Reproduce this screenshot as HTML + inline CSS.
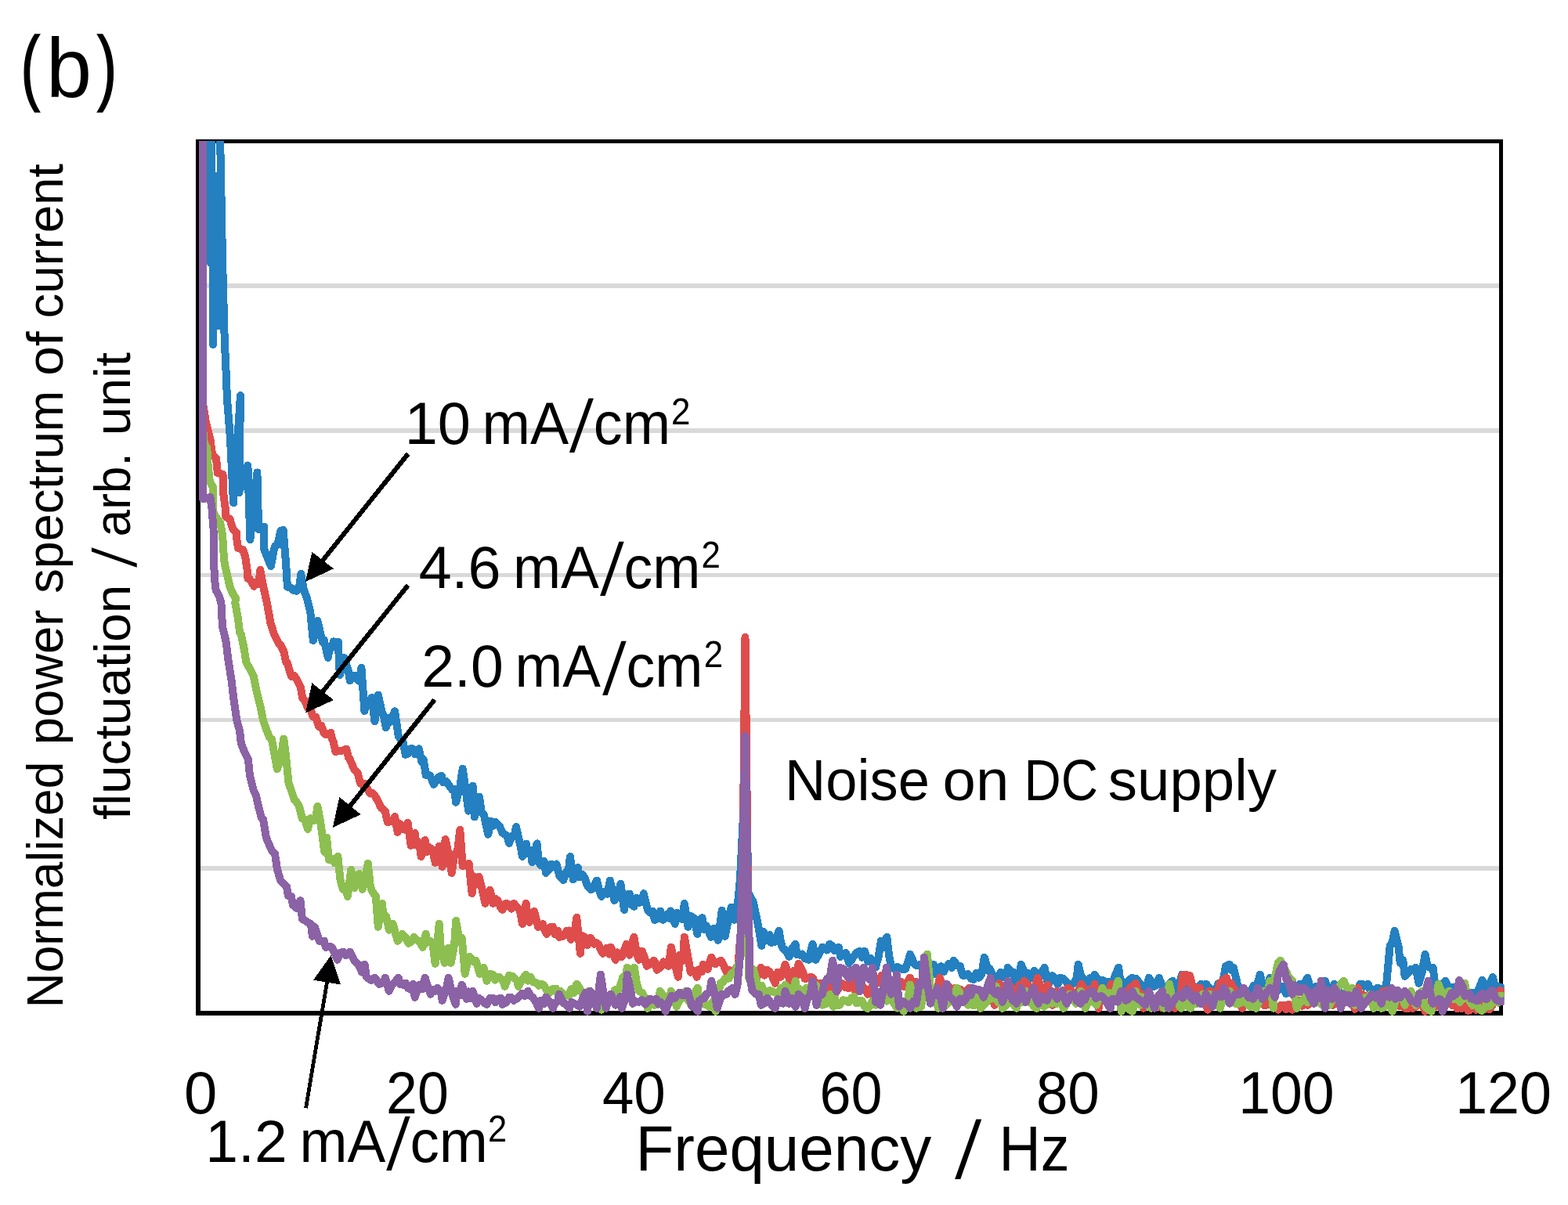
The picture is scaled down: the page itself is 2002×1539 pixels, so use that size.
<!DOCTYPE html>
<html lang="en">
<head>
<meta charset="utf-8">
<title>Normalized power spectrum of current fluctuation</title>
<style>
html,body{margin:0;padding:0;background:#ffffff;}
body{width:2002px;height:1539px;}
svg{display:block;}
text{font-family:"Liberation Sans", sans-serif;fill:#000;}
</style>
</head>
<body>
<svg width="2002" height="1539" viewBox="0 0 2002 1539">
<title>Normalized power spectrum of current fluctuation versus frequency</title>
<desc>Panel (b). Line chart of the normalized power spectrum of current fluctuation / arb. unit against Frequency / Hz from 0 to 120 Hz, for current densities of 10 mA/cm2, 4.6 mA/cm2, 2.0 mA/cm2 and 1.2 mA/cm2. The sharp peak at 50 Hz is labelled Noise on DC supply.</desc>
<defs><clipPath id="plot"><rect x="254" y="180" width="1666.7" height="1122"/></clipPath></defs>
<rect width="2002" height="1539" fill="#ffffff"/>
<g fill="#d9d9d9"><rect x="256" y="362" width="1658" height="6"/><rect x="256" y="547" width="1658" height="6"/><rect x="256" y="732" width="1658" height="5"/><rect x="256" y="917" width="1658" height="5"/><rect x="256" y="1106" width="1658" height="6"/></g>
<g fill="#000"><rect x="250" y="178" width="6" height="1119"/><rect x="250" y="1291" width="1669" height="6"/><rect x="250" y="178" width="1669" height="5"/><rect x="1914" y="178" width="5" height="1119"/></g>
<g>
<text transform="translate(26.38,121.03) scale(0.7390,1.0542)" font-size="100" stroke="#000" stroke-width="1.6">(</text>
<text transform="translate(59.11,123.92) scale(1.0444,1.0803)" font-size="100">b</text>
<text transform="translate(123.93,121.03) scale(0.7543,1.0542)" font-size="100" stroke="#000" stroke-width="1.6">)</text>
<text transform="translate(516.72,567.00) scale(1.0025,1)" font-size="75.60">10</text>
<text transform="translate(615.52,567.00) scale(0.9759,1)" font-size="75.60">mA</text>
<text transform="translate(727.00,576.86) skewX(-6.78) scale(1,1.1494)" font-size="82.03">/</text>
<text transform="translate(757.87,567.00) scale(0.9751,1)" font-size="75.60">cm</text>
<text transform="translate(857.10,542.00) scale(0.9158,1)" font-size="48.00">2</text>
<text transform="translate(534.70,750.50) scale(0.9973,1)" font-size="75.60">4.6</text>
<text transform="translate(654.95,750.50) scale(0.9703,1)" font-size="75.60">mA</text>
<text transform="translate(766.20,760.36) skewX(-6.37) scale(1,1.1494)" font-size="82.03">/</text>
<text transform="translate(796.58,750.50) scale(0.9707,1)" font-size="75.60">cm</text>
<text transform="translate(895.40,725.00) scale(0.9158,1)" font-size="48.00">2</text>
<text transform="translate(538.24,876.90) scale(0.9942,1)" font-size="75.60">2.0</text>
<text transform="translate(657.58,876.90) scale(0.9648,1)" font-size="75.60">mA</text>
<text transform="translate(769.20,886.76) skewX(-6.37) scale(1,1.1494)" font-size="82.03">/</text>
<text transform="translate(799.58,876.90) scale(0.9707,1)" font-size="75.60">cm</text>
<text transform="translate(898.80,852.00) scale(0.9158,1)" font-size="48.00">2</text>
<text transform="translate(262.37,1483.90) scale(0.9923,1)" font-size="75.60">1.2</text>
<text transform="translate(382.56,1483.90) scale(0.9685,1)" font-size="75.60">mA</text>
<text transform="translate(493.20,1493.76) skewX(-6.37) scale(1,1.1494)" font-size="82.03">/</text>
<text transform="translate(523.53,1483.90) scale(0.9859,1)" font-size="75.60">cm</text>
<text transform="translate(623.02,1458.00) scale(0.9066,1)" font-size="48.00">2</text>
<text transform="translate(1002.03,1021.50) scale(0.9659,1)" font-size="74.90">Noise</text>
<text transform="translate(1203.57,1021.50) scale(1.0162,1)" font-size="74.90">on</text>
<text transform="translate(1307.60,1021.50) scale(0.8733,1)" font-size="74.90">DC</text>
<text transform="translate(1414.85,1021.50) scale(0.9934,1)" font-size="74.90">supply</text>
<text transform="translate(234.96,1421.90) scale(1.0056,1)" font-size="75.60">0</text>
<text transform="translate(493.12,1421.90) scale(0.9482,1)" font-size="75.60">20</text>
<text transform="translate(768.97,1421.90) scale(0.9612,1)" font-size="75.60">40</text>
<text transform="translate(1046.51,1421.90) scale(0.9508,1)" font-size="75.60">60</text>
<text transform="translate(1322.91,1421.90) scale(0.9619,1)" font-size="75.60">80</text>
<text transform="translate(1581.19,1421.90) scale(0.9714,1)" font-size="75.60">100</text>
<text transform="translate(1858.18,1421.90) scale(0.9740,1)" font-size="75.60">120</text>
<text transform="translate(811.40,1494.90) scale(0.9744,1)" font-size="82.10">Frequency</text>
<text transform="translate(1219.20,1505.46) skewX(-6.69) scale(1,1.1494)" font-size="90.55">/</text>
<text transform="translate(1275.62,1494.90) scale(0.8973,1)" font-size="82.10">Hz</text>
<text transform="translate(80.30,1287.23) rotate(-90) scale(0.9658,1)" font-size="64.40">Normalized</text>
<text transform="translate(80.30,951.33) rotate(-90) scale(0.9854,1)" font-size="64.40">power</text>
<text transform="translate(80.30,757.73) rotate(-90) scale(0.9776,1)" font-size="64.40">spectrum</text>
<text transform="translate(80.30,479.87) rotate(-90) scale(1.0502,1)" font-size="64.40">of</text>
<text transform="translate(80.30,406.50) rotate(-90) scale(0.9847,1)" font-size="64.40">current</text>
<text transform="translate(166.20,1046.99) rotate(-90) scale(1.0231,1)" font-size="64.40">fluctuation</text>
<text transform="translate(174.01,724.70) rotate(-90) skewX(-6.49) scale(1,1.1494)" font-size="68.53">/</text>
<text transform="translate(166.20,685.44) rotate(-90) scale(0.9659,1)" font-size="64.40">arb.</text>
<text transform="translate(166.20,556.18) rotate(-90) scale(1.0234,1)" font-size="64.40">unit</text>
</g>
<g clip-path="url(#plot)" fill="none" stroke-width="10.0" stroke-linejoin="round" stroke-linecap="round" shape-rendering="crispEdges">
<path d="M268.8,170.0 L268.8,336.0" stroke="#2480c0"/>
<path d="M270.2,170.0 L270.2,300.0" stroke="#2480c0"/>
<path d="M272.0,300.0 L272.0,440.0" stroke="#2480c0"/>
<path d="M277.5,225.0 L279.5,416.0" stroke="#2480c0"/>
<path d="M281.0,170.0 L284.0,330.0 L286.8,437.0 L288.0,460.0 L290.0,510.0 L294.0,560.0 L298.0,642.2 L307.0,505.1 L305.2,629.2 L307.8,615.9 L310.4,620.9 L316.4,594.5 L319.4,689.4 L328.4,603.5 L330.1,675.9 L337.4,672.9 L337.4,701.9 L345.9,723.0 L349.4,703.9 L351.2,697.6 L354.4,695.9 L358.4,677.9 L361.6,677.0 L365.1,719.8 L366.9,749.7 L372.0,750.9 L373.9,753.7 L378.9,754.7 L382.4,747.8 L384.3,732.9 L387.9,753.7 L391.9,763.7 L396.3,782.0 L399.8,818.0 L403.2,807.1 L405.4,793.0 L411.8,820.0 L413.6,817.2 L418.8,839.9 L420.6,828.5 L424.1,827.1 L425.8,819.4 L431.8,820.0 L433.8,861.9 L437.9,848.9 L439.8,840.3 L444.9,857.3 L446.8,869.3 L451.8,862.6 L453.8,865.9 L458.8,870.1 L461.4,852.9 L465.4,907.9 L469.2,895.0 L472.6,896.4 L474.8,890.9 L478.4,921.2 L482.8,887.5 L487.8,909.9 L490.0,914.5 L492.8,929.2 L496.9,917.0 L498.8,921.8 L504.1,908.3 L508.7,939.8 L510.8,943.5 L514.3,946.5 L517.7,963.8 L521.2,962.4 L524.7,956.1 L526.7,956.4 L530.1,963.4 L534.7,956.4 L538.6,973.4 L540.7,969.8 L543.7,989.8 L549.0,990.2 L553.7,1001.8 L555.9,998.6 L559.4,992.6 L563.7,990.8 L566.3,999.5 L569.7,997.8 L573.3,1003.0 L577.7,1008.8 L580.2,1008.3 L582.1,1024.7 L587.1,1006.1 L590.7,981.8 L594.7,1009.8 L598.1,1035.7 L601.0,1020.6 L603.6,1003.8 L606.0,1043.3 L612.0,1017.8 L614.9,1037.7 L617.6,1039.7 L623.2,1065.7 L626.6,1048.7 L628.8,1055.3 L632.6,1049.7 L635.7,1053.9 L637.6,1054.7 L641.6,1063.7 L647.6,1067.7 L650.0,1077.0 L653.1,1068.3 L656.5,1068.6 L659.0,1056.0 L664.4,1080.0 L667.0,1093.9 L672.0,1077.6 L673.9,1090.5 L677.4,1086.2 L679.4,1101.3 L685.6,1077.4 L687.8,1100.1 L690.0,1104.9 L694.7,1099.9 L697.0,1114.9 L701.7,1109.8 L703.9,1103.5 L708.6,1107.8 L710.5,1103.5 L714.3,1118.9 L719.3,1123.9 L722.5,1114.8 L726.0,1110.2 L727.9,1094.1 L731.9,1123.3 L737.9,1107.9 L739.8,1120.3 L743.9,1116.9 L746.8,1121.7 L749.9,1130.9 L754.9,1136.3 L757.2,1133.5 L762.1,1124.5 L764.1,1133.5 L767.9,1144.9 L771.1,1139.1 L775.5,1141.9 L778.9,1124.5 L781.5,1135.7 L784.3,1149.9 L788.4,1143.4 L792.5,1128.9 L796.9,1161.9 L798.8,1143.0 L803.8,1141.5 L805.8,1155.2 L809.4,1157.9 L812.7,1146.8 L816.2,1152.8 L819.6,1149.2 L821.8,1141.3 L826.8,1161.9 L830.0,1165.5 L833.5,1163.7 L835.8,1174.9 L840.5,1172.7 L843.2,1163.5 L846.4,1174.9 L850.9,1168.1 L854.3,1172.8 L856.2,1163.5 L861.8,1179.9 L864.8,1165.9 L868.2,1172.3 L871.7,1174.5 L873.8,1154.1 L878.6,1183.8 L881.8,1169.9 L886.2,1172.9 L890.4,1192.8 L892.5,1177.6 L896.4,1172.3 L899.5,1187.3 L902.1,1182.8 L907.7,1196.8 L909.9,1186.6 L911.7,1185.8 L916.7,1200.8 L921.7,1162.9 L923.7,1184.0 L925.7,1195.8 L930.7,1170.2 L933.7,1158.9 L937.7,1174.9 L942.4,1150.0 L945.0,1122.0 L948.6,1050.0 L951.5,930.7 L955.5,1140.0 L961.7,1152.0 L967.7,1179.9 L972.3,1207.8 L974.7,1189.8 L979.3,1200.6 L982.7,1194.0 L984.7,1203.8 L989.7,1202.6 L994.7,1188.8 L996.6,1201.4 L998.7,1209.8 L1003.5,1214.5 L1007.6,1221.8 L1010.5,1212.9 L1015.6,1205.8 L1017.4,1219.0 L1021.6,1219.8 L1024.4,1218.6 L1027.8,1224.3 L1032.6,1225.8 L1034.8,1216.3 L1037.6,1205.8 L1041.6,1225.8 L1045.2,1219.2 L1050.0,1209.8 L1052.1,1210.6 L1055.6,1213.6 L1059.0,1205.8 L1062.5,1208.0 L1065.0,1213.8 L1071.0,1209.8 L1073.0,1221.9 L1078.0,1217.8 L1079.9,1217.2 L1084.0,1229.8 L1086.8,1226.9 L1089.0,1222.8 L1093.8,1216.8 L1098.0,1214.8 L1100.7,1222.8 L1103.9,1214.8 L1107.9,1227.8 L1111.1,1223.5 L1113.9,1227.8 L1117.9,1235.8 L1121.5,1222.3 L1124.9,1201.8 L1128.5,1209.8 L1132.3,1196.8 L1135.4,1222.4 L1137.9,1233.8 L1143.9,1239.8 L1145.8,1234.8 L1147.9,1235.8 L1152.8,1238.5 L1155.9,1237.8 L1159.7,1227.3 L1161.9,1218.8 L1167.9,1231.8 L1170.1,1233.1 L1173.6,1232.3 L1175.9,1231.8 L1181.9,1249.8 L1184.0,1244.7 L1187.5,1237.1 L1191.9,1231.8 L1194.4,1244.1 L1197.9,1241.8 L1201.3,1234.2 L1204.8,1241.3 L1207.8,1235.8 L1211.8,1230.9 L1215.2,1236.0 L1217.8,1226.8 L1222.2,1233.5 L1225.8,1233.8 L1229.1,1245.6 L1231.8,1245.8 L1236.0,1244.0 L1239.8,1249.8 L1243.0,1251.1 L1246.5,1243.0 L1249.8,1248.8 L1253.4,1244.1 L1256.8,1222.8 L1261.8,1239.8 L1263.8,1237.5 L1267.8,1245.8 L1270.7,1248.6 L1275.8,1244.8 L1277.7,1241.9 L1279.8,1247.8 L1284.6,1247.0 L1286.8,1235.8 L1291.6,1242.1 L1293.8,1241.8 L1297.8,1259.8 L1302.0,1248.7 L1303.7,1231.8 L1309.7,1245.8 L1312.4,1242.8 L1315.7,1249.8 L1320.7,1239.8 L1322.8,1247.4 L1327.7,1245.8 L1329.7,1242.7 L1333.7,1235.8 L1336.7,1251.9 L1339.7,1255.8 L1343.6,1246.2 L1347.7,1249.8 L1350.5,1256.7 L1353.7,1248.8 L1357.5,1249.8 L1359.7,1251.8 L1365.7,1259.8 L1367.9,1256.8 L1371.7,1255.8 L1374.8,1247.9 L1376.7,1231.8 L1381.8,1253.2 L1383.7,1249.8 L1389.7,1257.8 L1392.2,1248.7 L1395.7,1254.9 L1397.7,1244.8 L1403.6,1253.8 L1406.1,1251.6 L1409.6,1252.8 L1413.0,1256.6 L1415.6,1253.8 L1421.6,1255.8 L1423.4,1246.6 L1428.2,1235.8 L1430.4,1254.1 L1433.6,1253.8 L1437.6,1259.8 L1440.8,1252.4 L1445.6,1248.8 L1447.7,1259.8 L1450.0,1249.8 L1454.7,1254.9 L1458.0,1265.8 L1461.6,1259.9 L1465.1,1257.0 L1467.0,1248.8 L1473.0,1259.8 L1475.5,1258.9 L1480.0,1248.8 L1482.4,1256.0 L1486.0,1261.8 L1489.3,1260.0 L1492.8,1256.3 L1497.0,1252.8 L1499.8,1261.6 L1502.9,1269.8 L1506.7,1253.5 L1508.9,1244.8 L1513.6,1259.4 L1515.9,1249.8 L1520.6,1258.5 L1523.9,1269.8 L1527.5,1265.5 L1531.0,1259.9 L1533.9,1256.8 L1537.9,1264.3 L1539.9,1256.8 L1544.9,1262.5 L1547.9,1269.8 L1551.8,1268.2 L1555.3,1256.2 L1557.9,1259.8 L1562.2,1249.7 L1564.9,1233.8 L1569.9,1231.8 L1572.6,1239.0 L1574.9,1235.8 L1579.9,1256.8 L1583.0,1263.0 L1586.5,1262.5 L1589.9,1269.8 L1593.5,1267.5 L1597.9,1265.8 L1600.4,1258.9 L1603.9,1262.6 L1608.8,1244.8 L1610.8,1253.4 L1614.8,1261.8 L1617.7,1260.2 L1621.4,1248.8 L1624.7,1256.7 L1627.8,1265.8 L1631.6,1265.3 L1635.1,1261.6 L1637.8,1259.8 L1642.0,1269.1 L1645.5,1259.8 L1649.8,1265.8 L1652.4,1266.1 L1655.9,1259.2 L1659.8,1256.8 L1662.8,1260.6 L1666.3,1254.2 L1669.4,1248.8 L1673.3,1262.9 L1675.8,1263.8 L1680.2,1260.0 L1683.8,1265.8 L1687.1,1266.7 L1691.8,1252.8 L1694.1,1260.0 L1696.8,1265.8 L1701.0,1264.6 L1703.7,1256.8 L1708.0,1261.2 L1711.7,1269.8 L1714.9,1273.5 L1718.4,1267.3 L1721.7,1269.8 L1725.3,1271.7 L1728.8,1262.7 L1732.2,1268.2 L1736.7,1256.8 L1739.2,1256.5 L1741.7,1259.8 L1746.7,1256.8 L1749.6,1265.1 L1753.7,1265.8 L1756.5,1263.2 L1758.7,1261.8 L1763.5,1262.9 L1765.7,1269.8 L1769.7,1261.8 L1774.7,1207.8 L1777.7,1203.8 L1780.7,1188.8 L1785.7,1209.8 L1787.7,1229.8 L1791.2,1226.0 L1793.7,1246.8 L1798.2,1242.1 L1801.6,1237.8 L1805.1,1239.3 L1807.6,1235.8 L1811.6,1255.8 L1815.5,1242.3 L1819.6,1218.8 L1822.5,1233.7 L1825.6,1235.8 L1829.6,1235.8 L1832.6,1259.8 L1837.6,1259.8 L1839.8,1259.3 L1843.3,1255.6 L1845.6,1252.8 L1850.3,1263.9 L1853.7,1268.7 L1855.9,1260.7 L1859.9,1267.9 L1864.1,1265.8 L1867.9,1271.9 L1871.1,1274.5 L1874.5,1268.5 L1878.0,1272.9 L1879.9,1267.9 L1886.3,1267.9 L1888.4,1262.3 L1892.7,1251.9 L1895.3,1264.7 L1899.1,1266.3 L1902.3,1255.4 L1905.9,1247.9 L1909.2,1261.9 L1911.9,1259.9 L1916.2,1261.1 L1920.7,1266.3 L1923.9,1266.3 L1926.6,1271.2" stroke="#2480c0"/>
<path d="M258.8,500.0 L259.0,515.0 L263.0,540.0 L266.0,552.0 L268.3,560.0 L271.3,582.0 L276.0,585.0 L277.8,604.0 L284.5,606.0 L285.2,630.0 L287.8,650.0 L288.3,660.0 L293.5,663.0 L297.0,675.0 L301.8,680.0 L302.5,690.0 L304.0,700.0 L310.0,702.0 L313.0,710.0 L315.9,729.7 L316.5,738.7 L318.9,739.7 L324.3,748.7 L326.9,743.7 L330.4,746.4 L332.3,727.9 L336.3,749.7 L340.8,769.7 L345.5,796.0 L347.7,802.7 L349.9,810.0 L356.3,822.3 L358.1,823.5 L362.3,831.9 L365.1,845.1 L366.9,846.9 L371.9,863.9 L375.5,862.6 L378.9,867.9 L383.9,877.9 L386.3,891.9 L389.4,895.3 L392.9,903.9 L396.3,905.5 L399.8,915.6 L403.4,915.9 L406.8,927.8 L410.2,926.6 L413.8,936.8 L417.1,938.3 L422.2,935.8 L424.1,944.5 L425.8,947.8 L428.4,959.8 L434.5,959.0 L436.8,958.8 L442.2,956.8 L444.9,967.2 L446.8,969.8 L451.8,981.8 L456.8,987.8 L459.8,999.8 L462.2,1002.1 L465.7,1000.6 L469.8,1008.8 L472.6,1013.5 L475.8,1012.8 L479.6,1017.7 L482.8,1023.7 L486.5,1031.5 L490.0,1034.5 L491.8,1036.0 L494.8,1050.0 L500.4,1049.1 L504.1,1043.0 L507.7,1063.0 L510.8,1052.2 L514.3,1059.1 L517.8,1059.7 L520.7,1051.0 L524.7,1080.0 L529.7,1064.0 L531.6,1079.6 L535.1,1076.1 L537.7,1093.9 L542.7,1073.0 L545.5,1088.0 L547.7,1081.9 L552.5,1086.1 L555.7,1101.9 L560.7,1080.9 L562.9,1091.2 L564.7,1106.9 L568.7,1072.0 L573.3,1093.6 L576.7,1114.9 L580.2,1090.9 L583.7,1090.6 L587.3,1060.0 L590.7,1105.9 L594.1,1104.8 L598.7,1102.9 L602.6,1140.9 L604.5,1119.3 L608.0,1129.7 L611.6,1119.9 L614.9,1132.9 L619.6,1153.9 L621.8,1145.8 L625.6,1136.9 L629.6,1153.9 L632.3,1147.8 L635.6,1149.9 L639.2,1159.1 L641.6,1161.9 L646.1,1153.8 L650.0,1155.9 L653.1,1160.6 L656.0,1153.9 L661.0,1159.9 L663.5,1161.1 L667.0,1179.9 L671.6,1153.9 L673.9,1172.6 L676.0,1177.9 L682.0,1163.9 L684.3,1172.5 L687.0,1183.8 L693.0,1179.9 L694.7,1186.3 L698.0,1192.8 L701.7,1184.4 L705.9,1183.8 L708.6,1193.4 L712.1,1188.5 L713.9,1196.8 L719.0,1195.6 L723.9,1188.8 L726.0,1188.5 L728.9,1199.8 L732.9,1196.3 L736.3,1171.9 L740.9,1217.8 L743.3,1195.2 L747.9,1197.8 L750.2,1207.1 L753.9,1197.8 L758.9,1205.8 L760.6,1204.1 L763.9,1205.8 L767.6,1214.1 L769.9,1217.8 L774.5,1210.7 L778.0,1218.7 L779.9,1209.8 L785.9,1225.8 L788.4,1216.4 L791.9,1221.9 L793.9,1221.8 L799.9,1205.8 L803.8,1219.8 L805.8,1208.1 L809.4,1196.8 L812.7,1216.6 L815.8,1225.8 L819.8,1214.8 L823.1,1223.5 L825.8,1233.8 L830.0,1231.4 L834.8,1226.8 L837.0,1230.3 L838.8,1238.8 L843.9,1234.9 L847.4,1228.4 L849.8,1231.8 L853.8,1233.8 L856.8,1209.8 L861.3,1230.0 L865.8,1247.8 L868.2,1219.5 L871.7,1227.1 L873.8,1196.8 L878.6,1223.7 L881.8,1241.8 L885.6,1239.6 L889.8,1247.8 L892.5,1238.2 L896.0,1241.1 L897.8,1231.8 L903.7,1237.8 L906.4,1227.9 L908.1,1222.8 L913.3,1231.1 L915.7,1229.8 L920.7,1226.8 L923.7,1232.4 L927.7,1241.8 L930.7,1239.0 L933.7,1239.8 L938.0,1240.0 L942.5,1232.0 L945.8,1190.0 L948.9,1060.0 L951.5,813.7 L955.3,1182.0 L957.5,1240.0 L964.7,1253.8 L968.9,1240.1 L971.7,1235.8 L975.8,1245.6 L979.7,1238.8 L982.7,1241.6 L986.2,1247.6 L989.7,1255.8 L993.1,1241.6 L996.6,1247.8 L1000.1,1240.5 L1002.6,1231.8 L1007.0,1246.5 L1009.6,1259.8 L1014.0,1239.7 L1017.4,1246.0 L1019.6,1230.8 L1024.4,1239.5 L1027.6,1249.8 L1031.3,1249.4 L1034.8,1247.8 L1037.6,1248.8 L1041.7,1257.2 L1044.6,1255.8 L1050.0,1255.8 L1052.1,1256.2 L1055.6,1263.2 L1058.0,1259.8 L1062.5,1258.2 L1066.0,1269.8 L1069.5,1264.4 L1074.0,1255.8 L1076.4,1257.0 L1079.9,1261.3 L1084.0,1261.8 L1086.0,1245.8 L1092.0,1265.8 L1093.8,1257.0 L1097.2,1266.0 L1100.0,1259.8 L1104.2,1262.4 L1107.9,1269.8 L1111.1,1264.4 L1115.9,1255.8 L1118.1,1254.5 L1119.9,1255.8 L1125.9,1245.8 L1128.5,1259.5 L1131.9,1254.1 L1133.9,1265.8 L1139.9,1255.8 L1142.3,1262.4 L1145.8,1255.2 L1149.9,1253.8 L1153.9,1259.8 L1156.2,1257.7 L1159.7,1252.3 L1161.9,1248.8 L1166.6,1258.8 L1169.9,1253.8 L1173.9,1269.8 L1177.0,1262.8 L1181.9,1273.8 L1184.0,1272.1 L1187.5,1266.0 L1189.9,1269.8 L1194.4,1265.6 L1197.9,1258.2 L1199.9,1248.8 L1205.8,1265.8 L1208.3,1264.2 L1211.8,1259.9 L1213.8,1269.8 L1219.8,1261.8 L1222.2,1267.6 L1225.6,1263.5 L1229.8,1267.8 L1232.6,1267.8 L1236.0,1263.1 L1237.8,1261.8 L1243.0,1272.3 L1245.8,1273.8 L1249.9,1268.1 L1253.8,1269.8 L1256.9,1272.8 L1261.8,1265.8 L1263.8,1270.6 L1267.3,1272.7 L1269.8,1283.7 L1275.8,1255.8 L1277.7,1262.7 L1281.8,1265.8 L1284.6,1266.6 L1289.8,1261.8 L1291.6,1260.6 L1295.0,1268.3 L1297.8,1269.8 L1302.0,1257.5 L1305.4,1266.1 L1307.7,1252.8 L1312.4,1257.5 L1315.7,1269.8 L1319.3,1261.7 L1322.8,1257.6 L1324.7,1248.8 L1329.7,1262.4 L1331.7,1269.8 L1337.7,1257.8 L1340.1,1267.7 L1343.7,1283.7 L1347.1,1274.9 L1349.7,1265.8 L1355.7,1277.8 L1357.5,1265.0 L1361.0,1272.3 L1363.7,1261.8 L1367.9,1264.9 L1369.7,1275.8 L1374.8,1268.6 L1378.3,1263.0 L1380.7,1256.8 L1385.2,1265.2 L1387.7,1269.8 L1392.2,1263.3 L1395.7,1274.5 L1397.7,1256.8 L1402.6,1287.7 L1406.1,1267.6 L1409.6,1269.8 L1413.0,1270.5 L1416.5,1265.5 L1418.6,1256.8 L1423.6,1273.8 L1426.9,1270.9 L1429.6,1269.8 L1433.8,1266.3 L1437.3,1267.3 L1439.6,1265.8 L1444.2,1260.7 L1447.6,1257.8 L1450.0,1255.8 L1454.7,1270.5 L1458.0,1269.8 L1460.0,1287.7 L1465.1,1278.2 L1470.0,1279.8 L1472.0,1286.1 L1475.5,1278.8 L1480.0,1283.7 L1482.4,1286.7 L1485.9,1277.4 L1490.0,1279.8 L1492.8,1287.8 L1496.3,1279.8 L1500.0,1287.7 L1503.2,1275.7 L1507.9,1269.8 L1509.9,1245.8 L1513.9,1244.8 L1517.1,1254.2 L1518.9,1245.8 L1524.1,1265.8 L1525.9,1261.8 L1531.9,1261.8 L1535.9,1279.8 L1537.9,1275.4 L1541.9,1289.7 L1543.9,1265.8 L1548.3,1267.1 L1551.9,1269.8 L1555.3,1264.9 L1557.9,1255.8 L1562.2,1251.6 L1565.9,1248.8 L1569.2,1258.9 L1571.9,1255.8 L1576.1,1263.7 L1577.9,1269.8 L1583.0,1280.1 L1585.9,1287.7 L1590.0,1280.0 L1593.9,1279.8 L1596.9,1281.8 L1600.4,1276.9 L1603.8,1277.8 L1607.3,1281.9 L1610.8,1276.5 L1613.8,1283.7 L1617.7,1283.5 L1621.8,1277.8 L1624.7,1281.7 L1628.2,1285.9 L1631.8,1289.7 L1635.1,1283.9 L1639.8,1283.7 L1642.0,1289.0 L1645.5,1283.0 L1649.8,1289.7 L1652.4,1287.4 L1655.9,1281.1 L1659.8,1277.8 L1662.8,1284.8 L1666.3,1277.5 L1669.8,1283.7 L1673.3,1280.4 L1676.7,1269.5 L1679.8,1265.8 L1683.7,1277.2 L1687.1,1271.4 L1689.8,1277.8 L1694.1,1282.2 L1697.6,1276.9 L1701.7,1283.7 L1704.5,1281.7 L1708.0,1276.8 L1709.7,1277.8 L1714.9,1281.5 L1719.7,1275.8 L1721.8,1277.8 L1725.3,1279.0 L1729.7,1288.7 L1733.7,1261.8 L1735.7,1270.2 L1739.7,1269.8 L1742.7,1274.7 L1746.1,1271.7 L1749.7,1279.8 L1753.1,1281.8 L1757.7,1279.8 L1760.0,1270.6 L1763.5,1274.8 L1765.7,1265.8 L1770.4,1265.4 L1773.7,1269.8 L1777.4,1275.9 L1780.8,1274.6 L1785.7,1279.8 L1787.8,1285.5 L1791.2,1282.3 L1793.7,1287.7 L1798.2,1288.0 L1801.7,1279.3 L1803.6,1287.7 L1808.6,1285.1 L1811.6,1269.8 L1815.5,1280.5 L1819.6,1291.7 L1822.5,1286.3 L1825.9,1281.6 L1829.6,1279.8 L1832.9,1285.7 L1836.3,1279.7 L1839.6,1283.7 L1843.3,1284.4 L1846.8,1279.3 L1850.0,1277.8 L1853.7,1283.7 L1857.2,1279.9 L1860.6,1288.4 L1864.1,1283.1 L1866.3,1287.9 L1871.9,1283.9 L1874.5,1290.9 L1877.5,1289.5 L1881.5,1284.2 L1884.9,1289.8 L1887.9,1283.9 L1891.9,1283.8 L1895.3,1289.4 L1898.8,1281.6 L1901.5,1289.5 L1905.8,1283.1 L1907.9,1279.9 L1912.7,1271.8 L1915.1,1265.1 L1920.7,1267.9 L1923.9,1267.9 L1926.6,1269.4" stroke="#de4d4c"/>
<path d="M258.8,545.0 L260.8,566.0 L264.3,572.0 L265.3,590.0 L266.3,600.0 L267.8,615.0 L271.8,622.0 L272.3,650.0 L272.7,655.7 L281.2,667.7 L283.5,680.0 L285.0,695.0 L285.7,710.0 L287.0,721.7 L289.0,729.7 L293.6,749.7 L297.0,757.7 L300.9,763.7 L300.3,770.0 L303.9,790.0 L306.1,807.9 L307.9,810.0 L311.9,829.9 L314.3,845.9 L318.9,853.9 L323.9,863.9 L326.9,879.9 L331.9,899.9 L333.8,908.8 L335.9,919.9 L340.9,933.8 L344.2,941.8 L346.9,943.8 L350.9,965.8 L353.9,982.2 L358.1,970.1 L362.3,943.6 L365.5,969.8 L368.5,999.8 L371.9,1009.8 L375.9,1021.7 L378.9,1024.8 L381.9,1029.7 L385.9,1045.7 L389.4,1046.6 L392.9,1058.9 L396.3,1045.3 L399.8,1048.3 L403.2,1047.0 L405.4,1029.7 L409.8,1053.7 L414.2,1087.9 L417.1,1069.7 L419.8,1097.9 L424.1,1096.9 L427.5,1102.5 L431.4,1093.9 L434.5,1123.9 L437.9,1135.9 L441.4,1133.1 L443.8,1144.9 L448.2,1110.9 L452.8,1133.9 L455.3,1122.3 L458.8,1115.9 L462.8,1135.9 L465.7,1125.0 L469.8,1102.9 L472.6,1130.3 L474.8,1137.9 L479.8,1144.9 L482.8,1183.8 L487.8,1153.9 L490.0,1172.3 L492.8,1169.9 L496.9,1187.8 L501.7,1179.9 L503.9,1188.1 L507.7,1201.8 L510.8,1197.3 L513.7,1192.8 L517.8,1197.3 L521.7,1204.8 L524.7,1202.7 L528.7,1196.8 L531.6,1200.4 L535.1,1202.0 L539.7,1209.8 L543.7,1192.8 L545.5,1203.9 L549.7,1201.8 L552.5,1205.7 L555.7,1230.8 L560.7,1179.9 L562.9,1213.0 L567.7,1229.8 L569.8,1214.8 L573.3,1210.5 L575.7,1229.8 L580.2,1206.3 L582.1,1175.9 L587.1,1203.5 L589.7,1197.8 L593.7,1243.8 L597.6,1225.2 L599.7,1221.8 L604.5,1228.2 L607.6,1226.8 L612.6,1243.8 L614.9,1242.6 L617.6,1235.8 L621.6,1252.8 L625.3,1243.8 L629.6,1244.8 L632.3,1251.6 L635.7,1247.9 L637.6,1247.8 L642.7,1253.9 L644.6,1259.8 L650.0,1245.8 L654.0,1246.8 L656.5,1248.9 L660.0,1252.8 L662.0,1259.8 L667.0,1250.6 L671.6,1244.8 L673.9,1252.6 L677.4,1247.8 L680.0,1253.8 L686.0,1255.8 L687.8,1258.7 L691.2,1256.9 L694.0,1257.8 L698.2,1264.6 L700.0,1269.8 L705.1,1263.3 L709.9,1262.8 L712.1,1268.8 L715.5,1265.8 L717.9,1269.8 L722.5,1270.8 L725.9,1271.8 L729.4,1263.3 L732.9,1268.1 L736.3,1256.8 L739.8,1261.5 L743.9,1269.8 L746.8,1269.5 L751.9,1265.8 L753.7,1267.2 L757.9,1269.8 L760.6,1279.8 L764.1,1276.5 L767.9,1289.7 L771.1,1282.5 L774.5,1276.6 L777.9,1275.8 L781.5,1275.9 L784.9,1264.4 L789.9,1263.8 L791.9,1258.4 L795.4,1247.6 L798.8,1246.7 L800.8,1235.8 L805.8,1239.5 L809.8,1235.8 L812.7,1254.2 L815.8,1265.8 L819.8,1267.8 L823.1,1273.7 L826.8,1287.7 L830.0,1282.3 L833.5,1277.2 L835.8,1283.7 L840.5,1281.6 L842.8,1265.8 L847.4,1272.8 L849.8,1283.7 L854.3,1279.0 L856.8,1265.8 L861.3,1274.5 L863.8,1285.7 L868.2,1276.5 L871.7,1274.3 L875.8,1265.8 L878.6,1277.4 L883.8,1285.7 L885.6,1269.9 L890.8,1261.8 L892.5,1277.5 L896.0,1274.0 L897.8,1281.7 L902.9,1284.1 L905.7,1285.7 L909.9,1279.3 L913.7,1291.7 L916.8,1273.1 L919.7,1255.8 L923.7,1254.0 L925.7,1249.8 L930.7,1249.6 L933.7,1243.8 L939.0,1240.0 L942.5,1232.0 L945.5,1222.0 L948.6,1130.0 L952.0,1040.0 L956.4,1250.0 L961.7,1237.8 L969.7,1265.8 L972.3,1258.8 L975.7,1267.8 L979.3,1271.0 L982.7,1265.1 L985.7,1265.8 L989.7,1267.9 L993.7,1269.8 L996.6,1262.3 L1000.1,1268.5 L1002.6,1257.8 L1007.0,1262.9 L1009.6,1279.8 L1015.6,1252.8 L1017.4,1271.9 L1020.9,1263.2 L1023.6,1279.8 L1027.8,1267.8 L1029.6,1261.8 L1034.8,1261.1 L1038.2,1266.3 L1041.6,1257.8 L1045.2,1265.5 L1047.6,1269.8 L1050.0,1283.7 L1055.6,1281.8 L1060.0,1269.8 L1064.0,1285.7 L1066.0,1275.5 L1069.5,1283.9 L1072.0,1283.7 L1076.4,1277.3 L1080.0,1277.8 L1083.4,1280.4 L1088.0,1273.8 L1090.3,1273.1 L1093.8,1281.4 L1096.0,1277.8 L1100.7,1278.3 L1103.9,1285.7 L1107.7,1287.8 L1109.9,1285.7 L1114.6,1277.1 L1117.9,1283.7 L1121.5,1280.4 L1123.9,1269.8 L1128.5,1271.5 L1131.9,1278.7 L1133.9,1273.8 L1138.9,1277.7 L1143.9,1285.7 L1145.8,1287.6 L1149.3,1279.7 L1153.9,1291.7 L1156.2,1281.6 L1159.7,1274.5 L1161.9,1257.8 L1166.6,1278.2 L1169.9,1287.7 L1173.6,1266.5 L1175.9,1285.7 L1180.5,1263.7 L1183.9,1218.8 L1187.5,1257.2 L1189.9,1269.8 L1194.4,1275.4 L1197.9,1287.7 L1201.3,1279.7 L1205.8,1285.7 L1208.3,1282.7 L1211.8,1279.8 L1215.2,1270.4 L1218.7,1274.9 L1221.8,1261.8 L1225.6,1268.4 L1227.8,1273.8 L1232.6,1278.9 L1235.8,1283.7 L1239.5,1275.0 L1243.0,1284.5 L1245.8,1273.8 L1249.9,1279.4 L1251.8,1287.7 L1256.9,1282.3 L1259.8,1279.8 L1263.8,1271.1 L1265.8,1275.8 L1271.8,1259.8 L1274.2,1279.9 L1277.7,1273.5 L1279.8,1287.7 L1284.6,1284.0 L1289.8,1277.8 L1291.6,1279.3 L1295.0,1283.9 L1297.8,1287.7 L1302.0,1275.4 L1305.4,1280.1 L1309.7,1265.8 L1313.7,1279.8 L1315.8,1276.3 L1319.3,1284.9 L1323.7,1287.7 L1326.3,1282.0 L1329.7,1283.7 L1333.2,1285.6 L1337.7,1281.7 L1340.1,1276.3 L1343.6,1281.9 L1345.7,1275.8 L1349.7,1281.7 L1354.0,1277.9 L1357.7,1287.7 L1361.0,1283.7 L1365.7,1269.8 L1367.9,1274.7 L1371.4,1276.4 L1373.7,1281.7 L1379.7,1265.8 L1381.8,1274.2 L1385.7,1287.7 L1388.7,1281.5 L1393.7,1277.8 L1395.7,1277.9 L1399.7,1283.7 L1402.6,1276.5 L1407.6,1261.8 L1409.5,1267.0 L1413.6,1269.8 L1416.5,1268.4 L1419.6,1273.8 L1423.4,1268.3 L1427.6,1252.8 L1431.6,1291.7 L1433.8,1282.0 L1437.3,1280.4 L1439.6,1287.7 L1445.6,1291.7 L1447.7,1285.1 L1450.0,1265.8 L1456.0,1283.7 L1458.1,1273.3 L1462.0,1275.8 L1465.1,1283.8 L1470.0,1287.7 L1472.0,1278.7 L1475.5,1286.0 L1480.0,1275.8 L1482.4,1273.7 L1486.0,1287.7 L1489.3,1276.7 L1493.0,1256.8 L1496.3,1272.3 L1500.0,1279.8 L1503.2,1280.1 L1507.9,1287.7 L1510.2,1280.6 L1513.9,1279.8 L1517.1,1285.5 L1519.9,1287.7 L1524.1,1275.4 L1527.5,1282.1 L1529.9,1273.8 L1535.9,1269.8 L1537.9,1269.8 L1541.4,1274.9 L1543.9,1269.8 L1549.9,1279.8 L1551.8,1275.1 L1555.3,1283.7 L1557.9,1287.7 L1562.2,1272.7 L1565.9,1269.8 L1569.9,1265.8 L1572.6,1276.8 L1576.1,1273.1 L1577.9,1281.7 L1583.0,1281.5 L1585.9,1277.8 L1590.0,1277.5 L1593.9,1283.7 L1596.9,1286.0 L1600.4,1280.7 L1603.8,1287.7 L1607.3,1280.1 L1610.8,1269.5 L1613.8,1265.8 L1617.7,1270.6 L1621.4,1252.8 L1625.8,1287.7 L1628.2,1246.4 L1631.8,1229.8 L1634.8,1226.8 L1638.6,1241.0 L1641.8,1239.8 L1645.5,1248.1 L1649.8,1251.8 L1651.8,1265.8 L1655.8,1287.7 L1659.4,1280.4 L1663.8,1277.8 L1666.3,1272.2 L1669.8,1280.2 L1671.8,1269.8 L1676.7,1270.6 L1679.8,1277.8 L1683.8,1269.8 L1687.1,1282.8 L1689.8,1281.7 L1694.1,1274.3 L1697.8,1283.7 L1701.0,1277.2 L1705.7,1269.8 L1708.0,1262.0 L1709.7,1259.8 L1715.7,1252.8 L1719.7,1261.8 L1721.8,1268.0 L1726.7,1261.8 L1729.7,1283.7 L1732.2,1270.0 L1735.7,1279.6 L1737.7,1275.8 L1742.7,1274.3 L1744.7,1277.8 L1749.7,1269.8 L1753.7,1287.7 L1756.5,1285.6 L1760.0,1282.1 L1763.7,1287.7 L1767.0,1286.6 L1769.7,1277.8 L1773.9,1279.6 L1777.7,1291.7 L1780.8,1281.8 L1785.7,1265.8 L1787.8,1273.3 L1791.2,1275.8 L1793.7,1283.7 L1798.2,1271.2 L1801.6,1265.8 L1805.1,1278.2 L1807.6,1283.7 L1812.1,1271.1 L1815.6,1265.8 L1819.0,1285.1 L1821.6,1287.7 L1827.6,1291.7 L1829.4,1272.9 L1832.9,1278.0 L1836.6,1256.8 L1839.8,1265.8 L1843.6,1269.8 L1846.8,1271.6 L1850.0,1265.8 L1853.7,1270.8 L1855.9,1275.9 L1860.6,1274.5 L1863.9,1279.9 L1867.6,1268.9 L1870.3,1255.9 L1874.3,1275.9 L1878.0,1280.5 L1879.9,1283.9 L1884.9,1282.0 L1887.9,1287.9 L1891.9,1290.8 L1895.9,1286.3 L1898.8,1280.7 L1902.3,1285.0 L1905.8,1278.1 L1907.9,1279.9 L1912.7,1280.6 L1915.9,1271.9 L1920.7,1272.7 L1923.9,1272.7 L1926.6,1269.6" stroke="#8cbf50"/>
<path d="M258.8,170.0 L258.8,530.0 L259.3,637.4 L268.5,635.0 L270.5,650.0 L272.5,675.0 L272.8,710.0 L274.0,739.7 L275.6,753.7 L280.0,761.7 L282.4,770.0 L284.0,800.0 L288.7,820.0 L291.0,839.9 L295.7,869.9 L298.0,889.9 L302.3,919.9 L306.1,933.8 L307.9,949.8 L311.9,959.8 L316.9,969.8 L318.9,989.8 L323.9,1009.8 L326.9,1016.1 L329.9,1029.7 L333.8,1044.5 L335.9,1046.0 L339.9,1070.0 L345.9,1083.9 L347.7,1087.6 L350.9,1089.9 L353.9,1109.9 L357.9,1123.9 L361.6,1128.3 L365.9,1131.9 L367.9,1143.9 L372.0,1145.0 L373.9,1155.9 L378.9,1160.0 L383.5,1150.3 L385.9,1173.9 L389.9,1175.9 L392.8,1177.8 L396.9,1179.9 L398.9,1195.8 L401.8,1183.8 L407.8,1201.8 L410.2,1202.2 L413.8,1201.8 L415.8,1209.8 L420.6,1208.7 L423.8,1209.8 L427.5,1217.6 L430.8,1225.8 L434.5,1216.8 L438.8,1215.8 L441.4,1220.0 L444.9,1218.6 L446.8,1215.8 L451.8,1225.8 L455.3,1229.6 L457.8,1231.8 L462.2,1241.8 L465.7,1231.8 L467.8,1247.8 L473.8,1251.8 L476.1,1249.8 L478.8,1248.8 L483.8,1256.8 L486.5,1256.0 L490.0,1253.8 L491.8,1248.8 L496.8,1265.8 L500.4,1257.9 L503.9,1254.5 L508.7,1248.8 L510.8,1256.9 L514.7,1257.8 L517.8,1255.7 L520.7,1261.8 L524.7,1263.8 L527.7,1256.8 L529.7,1273.8 L535.1,1258.2 L538.6,1263.5 L542.7,1248.8 L545.5,1258.0 L549.7,1269.8 L552.5,1264.1 L555.9,1265.6 L558.7,1261.8 L562.9,1266.9 L564.7,1277.8 L569.8,1263.3 L572.7,1248.8 L576.7,1267.3 L581.7,1282.7 L583.7,1265.8 L587.1,1271.3 L589.7,1257.8 L595.7,1275.8 L597.6,1266.4 L601.0,1275.0 L603.6,1265.8 L608.6,1281.7 L611.4,1275.0 L615.6,1277.8 L618.4,1281.3 L621.6,1282.7 L625.3,1275.1 L629.6,1274.8 L632.3,1280.2 L635.6,1275.8 L639.2,1274.7 L641.6,1282.7 L646.1,1280.6 L650.0,1273.8 L653.1,1274.1 L656.0,1277.8 L660.0,1275.3 L664.0,1271.8 L667.0,1268.5 L670.4,1272.0 L674.0,1265.8 L677.4,1272.0 L680.0,1273.8 L684.3,1279.6 L688.0,1287.7 L691.2,1277.5 L694.7,1282.1 L697.0,1273.8 L701.7,1279.2 L705.9,1287.7 L708.6,1281.2 L712.1,1278.3 L713.9,1269.8 L719.9,1281.7 L722.5,1282.3 L726.9,1287.7 L729.9,1279.8 L732.9,1281.5 L736.4,1283.2 L739.9,1285.7 L743.3,1277.0 L747.9,1267.8 L749.9,1291.7 L753.9,1265.8 L757.2,1273.6 L761.9,1287.7 L764.1,1268.9 L766.9,1244.8 L771.1,1273.4 L773.9,1287.7 L778.0,1273.4 L779.9,1269.8 L785.9,1283.7 L788.4,1280.2 L791.9,1272.9 L793.9,1287.7 L798.8,1274.5 L800.8,1244.8 L805.8,1268.3 L807.8,1281.7 L812.7,1279.3 L815.8,1279.8 L819.6,1277.4 L823.8,1282.7 L826.6,1279.9 L829.8,1275.8 L833.5,1277.3 L837.8,1275.8 L840.5,1282.5 L843.9,1280.0 L847.4,1284.9 L849.8,1291.7 L854.3,1278.4 L857.8,1271.8 L861.3,1275.0 L865.8,1269.8 L868.2,1267.6 L871.7,1271.2 L875.2,1270.9 L877.8,1265.8 L883.8,1285.7 L885.6,1283.3 L890.8,1291.7 L892.5,1278.4 L895.8,1275.8 L899.5,1275.0 L901.7,1269.8 L906.4,1266.6 L908.3,1252.8 L913.3,1273.0 L915.7,1287.7 L921.7,1269.8 L923.7,1271.0 L927.2,1270.0 L929.7,1265.8 L935.7,1261.8 L938.5,1270.0 L941.5,1258.0 L944.6,1225.0 L947.6,1120.0 L951.5,939.5 L954.8,1130.0 L956.6,1200.0 L957.2,1248.0 L960.5,1265.0 L965.7,1270.0 L968.9,1269.9 L971.7,1283.7 L975.8,1281.7 L979.7,1274.8 L982.7,1278.7 L986.2,1285.0 L989.7,1287.7 L993.1,1276.1 L995.7,1279.8 L1000.1,1281.7 L1002.6,1265.8 L1007.6,1281.7 L1010.5,1275.0 L1015.6,1285.7 L1017.4,1282.6 L1019.6,1269.8 L1024.4,1275.3 L1027.6,1287.7 L1031.3,1274.1 L1034.8,1270.3 L1037.6,1252.8 L1042.6,1283.7 L1045.2,1272.7 L1050.0,1269.8 L1052.1,1257.8 L1056.0,1249.8 L1059.1,1252.2 L1063.0,1226.8 L1066.0,1240.2 L1068.0,1265.8 L1072.0,1235.8 L1078.0,1237.8 L1079.9,1244.1 L1084.0,1249.8 L1086.8,1239.3 L1090.0,1239.8 L1093.0,1235.8 L1098.0,1265.8 L1100.7,1249.3 L1102.9,1235.8 L1108.9,1249.8 L1111.1,1251.3 L1113.9,1235.8 L1118.1,1279.8 L1121.5,1267.4 L1123.9,1283.7 L1128.5,1259.6 L1131.9,1235.8 L1135.4,1257.9 L1137.9,1269.8 L1142.3,1261.4 L1144.9,1244.8 L1147.9,1285.7 L1152.8,1278.8 L1155.9,1281.7 L1159.7,1282.8 L1161.9,1287.7 L1166.6,1278.4 L1169.9,1281.7 L1173.6,1255.7 L1177.0,1258.0 L1179.9,1222.8 L1184.0,1254.7 L1187.9,1281.7 L1190.9,1268.5 L1194.4,1270.7 L1196.9,1261.8 L1201.3,1275.6 L1203.8,1287.7 L1208.8,1256.8 L1211.8,1272.2 L1215.8,1275.8 L1218.7,1279.3 L1221.8,1285.7 L1225.6,1275.5 L1229.8,1279.8 L1232.6,1277.4 L1236.0,1266.0 L1239.5,1271.0 L1241.8,1261.8 L1246.5,1263.9 L1249.8,1263.8 L1253.4,1267.3 L1255.8,1273.8 L1260.3,1261.0 L1264.8,1248.8 L1267.3,1266.3 L1271.8,1269.8 L1274.2,1265.1 L1277.7,1272.4 L1279.8,1279.8 L1284.6,1265.7 L1286.8,1252.8 L1292.8,1277.8 L1295.0,1272.6 L1297.8,1281.7 L1302.0,1273.1 L1303.7,1261.8 L1309.7,1279.8 L1312.4,1271.8 L1315.8,1269.9 L1319.7,1261.8 L1322.8,1275.1 L1325.7,1281.7 L1329.7,1272.2 L1333.7,1275.8 L1336.7,1277.6 L1340.1,1270.4 L1342.7,1265.8 L1347.1,1271.5 L1349.7,1275.8 L1355.7,1265.8 L1357.5,1269.4 L1361.7,1281.7 L1364.4,1277.3 L1367.9,1270.7 L1371.7,1269.8 L1374.8,1278.3 L1379.7,1281.7 L1381.8,1269.3 L1385.2,1276.9 L1387.7,1269.8 L1393.7,1265.8 L1395.7,1266.1 L1399.1,1274.9 L1401.6,1273.8 L1406.1,1272.1 L1409.6,1274.8 L1413.0,1280.6 L1417.6,1287.7 L1420.0,1276.2 L1423.6,1275.8 L1426.9,1279.7 L1431.6,1265.8 L1433.8,1267.1 L1437.6,1277.8 L1440.8,1275.9 L1445.6,1265.8 L1447.7,1270.8 L1450.0,1273.8 L1456.0,1277.8 L1458.1,1279.4 L1462.0,1283.7 L1465.1,1274.3 L1467.0,1265.8 L1472.0,1280.8 L1474.0,1287.7 L1478.9,1272.1 L1484.0,1265.8 L1485.9,1281.2 L1489.3,1273.7 L1492.0,1287.7 L1496.3,1282.0 L1500.0,1275.8 L1503.2,1272.2 L1507.9,1269.8 L1510.2,1274.6 L1513.6,1265.0 L1517.9,1265.8 L1520.6,1274.3 L1523.9,1277.8 L1527.5,1271.2 L1531.9,1281.7 L1534.5,1281.9 L1537.9,1274.2 L1539.9,1269.8 L1544.9,1278.5 L1547.9,1285.7 L1551.8,1269.9 L1555.9,1269.8 L1558.8,1273.4 L1561.9,1261.8 L1565.7,1266.7 L1569.9,1281.7 L1572.6,1276.3 L1576.1,1270.6 L1577.9,1269.8 L1583.0,1270.1 L1587.9,1261.8 L1590.0,1265.3 L1593.9,1273.8 L1596.9,1272.6 L1599.9,1275.8 L1603.9,1267.2 L1605.8,1261.8 L1611.8,1275.8 L1614.3,1272.5 L1617.7,1267.0 L1621.8,1261.8 L1624.7,1263.8 L1627.8,1273.8 L1631.6,1247.4 L1633.8,1239.8 L1638.8,1231.8 L1642.0,1250.3 L1643.8,1249.8 L1649.8,1269.8 L1652.4,1257.7 L1655.8,1265.8 L1659.4,1266.9 L1661.8,1261.8 L1666.3,1262.5 L1669.8,1265.8 L1673.3,1274.2 L1677.8,1281.7 L1680.2,1264.9 L1683.7,1275.2 L1686.8,1252.8 L1691.8,1287.7 L1694.1,1264.7 L1697.8,1269.8 L1701.0,1275.9 L1703.7,1261.8 L1708.0,1268.8 L1711.7,1287.7 L1715.7,1269.8 L1718.4,1280.1 L1721.8,1270.6 L1723.7,1281.7 L1728.8,1280.7 L1731.7,1265.8 L1735.7,1274.6 L1737.7,1287.7 L1742.7,1281.1 L1745.7,1277.8 L1749.6,1273.4 L1751.7,1269.8 L1756.5,1274.6 L1759.7,1269.8 L1763.7,1281.7 L1767.0,1267.6 L1769.7,1269.8 L1773.9,1273.7 L1776.7,1261.8 L1781.7,1275.8 L1784.3,1264.8 L1787.8,1274.0 L1789.7,1269.8 L1793.7,1265.8 L1798.2,1271.7 L1801.6,1277.8 L1805.1,1278.8 L1809.6,1281.7 L1812.1,1268.8 L1815.6,1269.8 L1819.0,1271.4 L1823.6,1252.8 L1825.9,1267.6 L1829.6,1281.7 L1832.9,1280.5 L1837.6,1275.8 L1839.8,1277.3 L1841.6,1291.7 L1846.8,1281.1 L1850.0,1275.8 L1853.7,1268.0 L1855.9,1271.9 L1860.6,1268.2 L1863.1,1251.9 L1867.6,1260.4 L1870.3,1271.9 L1875.9,1268.7 L1878.0,1275.4 L1880.7,1275.9 L1886.3,1278.3 L1888.4,1272.2 L1892.7,1268.7 L1895.3,1275.6 L1898.3,1275.9 L1902.3,1266.7 L1905.9,1264.7 L1909.2,1275.3 L1911.1,1277.5 L1915.9,1279.1 L1920.7,1278.3 L1923.9,1278.3 L1926.6,1276.7" stroke="#8b62a5"/>
</g>
<g shape-rendering="crispEdges"><line x1="521.1" y1="579.5" x2="412.1" y2="715.6" stroke="#000" stroke-width="6.0"/><polygon points="390.1,743 398.3,704.9 426,726.3" fill="#000"/><line x1="520.9" y1="747.5" x2="412.1" y2="883.1" stroke="#000" stroke-width="6.0"/><polygon points="390.1,910.6 398.3,872.3 426,894" fill="#000"/><line x1="554.8" y1="893.7" x2="447.1" y2="1029.2" stroke="#000" stroke-width="6.0"/><polygon points="424.8,1056.9 433.3,1018.1 460.8,1040.2" fill="#000"/><line x1="390.5" y1="1415.2" x2="417.5" y2="1254.5" stroke="#000" stroke-width="4.8"/><polygon points="422.5,1220.2 400.1,1251.6 434.9,1257.5" fill="#000"/></g>
</svg>
</body>
</html>
